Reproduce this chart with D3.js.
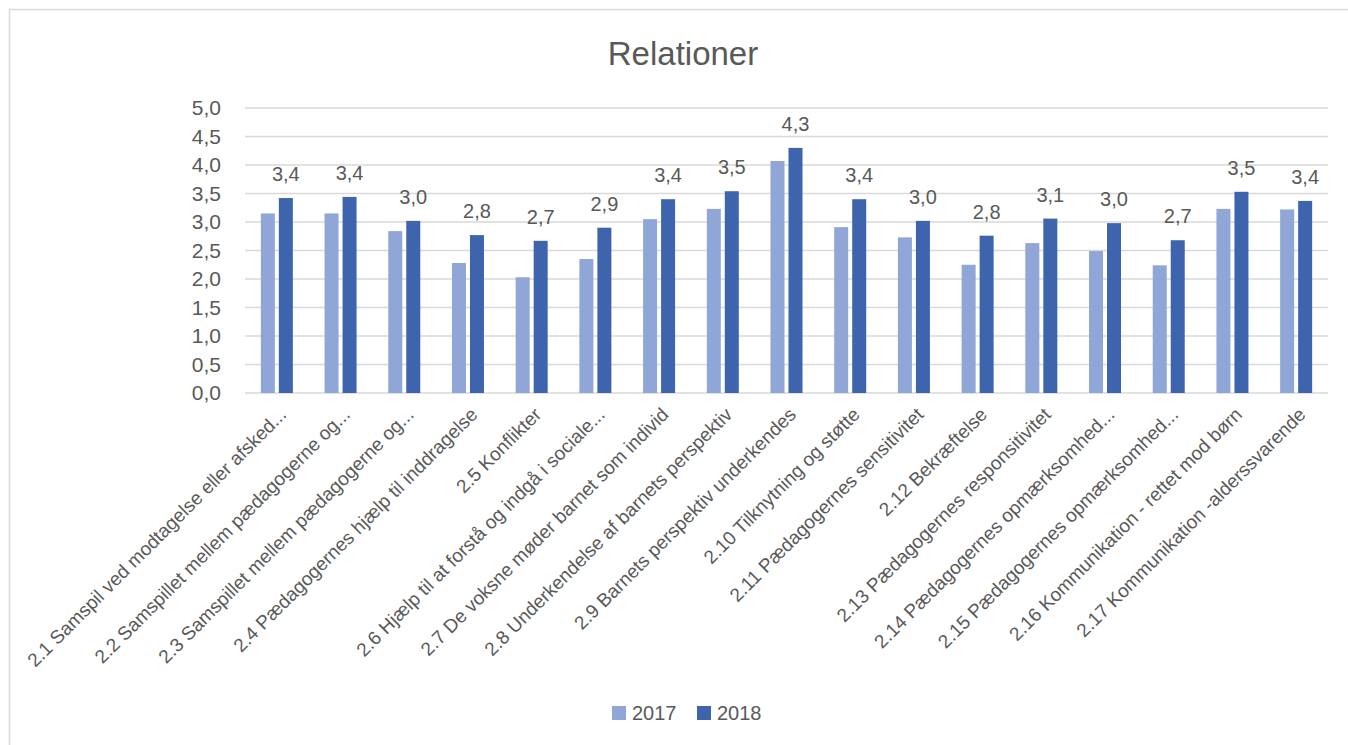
<!DOCTYPE html>
<html>
<head>
<meta charset="utf-8">
<script src="https://cdn.jsdelivr.net/npm/d3@7"></script>
<style>
  body { margin: 0; background: #fff; }
  text { font-family: "Liberation Sans", Arial, sans-serif; fill: #595959; }
</style>
</head>
<body>
<svg width="1348" height="745"></svg>
<script>
// data
var categories = [
  "2.1 Samspil ved modtagelse eller afsked...",
  "2.2 Samspillet mellem pædagogerne og...",
  "2.3 Samspillet mellem pædagogerne og...",
  "2.4 Pædagogernes hjælp til inddragelse",
  "2.5 Konflikter",
  "2.6 Hjælp til at forstå og indgå i sociale...",
  "2.7 De voksne møder barnet som individ",
  "2.8 Underkendelse af barnets perspektiv",
  "2.9 Barnets perspektiv underkendes",
  "2.10 Tilknytning og støtte",
  "2.11 Pædagogernes sensitivitet",
  "2.12 Bekræftelse",
  "2.13 Pædagogernes responsitivitet",
  "2.14 Pædagogernes opmærksomhed...",
  "2.15 Pædagogernes opmærksomhed...",
  "2.16 Kommunikation - rettet mod børn",
  "2.17 Kommunikation -alderssvarende"
];
var values2017 = [3.15, 3.15, 2.84, 2.28, 2.03, 2.35, 3.05, 3.23, 4.07, 2.91, 2.73, 2.25, 2.63, 2.49, 2.24, 3.23, 3.22];
var values2018 = [3.42, 3.44, 3.02, 2.77, 2.67, 2.90, 3.40, 3.54, 4.30, 3.40, 3.02, 2.76, 3.06, 2.98, 2.68, 3.53, 3.37];
var years = ["2017", "2018"];
var colors = ["#8fa6d6", "#3d64ad"];
var yTicks = [0, 0.5, 1, 1.5, 2, 2.5, 3, 3.5, 4, 4.5, 5];

var svg = d3.select("svg"),
    width = +svg.attr("width"),
    height = +svg.attr("height");

var margin = {top: 108, left: 245, right: 20, bottom: 352};
var plotW = 1328 - margin.left,
    plotH = 393 - margin.top;

var fmt = function(v) { return d3.format(".1f")(v).replace(".", ","); };

// chart frame
svg.append("rect")
  .attr("x", 9.5).attr("y", 9.5)
  .attr("width", width + 10).attr("height", height + 10)
  .attr("fill", "#fff")
  .attr("stroke", "#d9d9d9")
  .attr("stroke-width", 1.5);

svg.append("text")
  .attr("x", 683).attr("y", 65)
  .attr("text-anchor", "middle")
  .style("font-size", "33px")
  .text("Relationer");

var g = svg.append("g")
  .attr("transform", "translate(" + margin.left + "," + margin.top + ")");

var x = d3.scaleBand().domain(categories).range([0, plotW]);
var y = d3.scaleLinear().domain([0, 5]).range([plotH, 0]);

// gridlines
g.append("g").selectAll("line").data(yTicks).enter().append("line")
  .attr("x1", 0).attr("x2", plotW)
  .attr("y1", function(d) { return y(d); })
  .attr("y2", function(d) { return y(d); })
  .attr("stroke", "#d9d9d9")
  .attr("stroke-width", 1.5);

// y axis labels
var yAxis = d3.axisLeft(y).tickValues(yTicks).tickFormat(fmt).tickSize(0).tickPadding(24);
var gY = g.append("g").call(yAxis);
gY.select(".domain").remove();
gY.selectAll("text")
  .style("font-size", "21px")
  .style("font-family", "'Liberation Sans', Arial, sans-serif")
  .attr("fill", "#595959");

var barW = 14, gap = 4;
var series = [values2017, values2018];

series.forEach(function(vals, si) {
  g.append("g").selectAll("rect").data(vals).enter().append("rect")
    .attr("x", function(d, i) {
      var c = x(categories[i]) + x.bandwidth() / 2;
      return si === 0 ? c - gap / 2 - barW : c + gap / 2;
    })
    .attr("y", function(d) { return y(d); })
    .attr("width", barW)
    .attr("height", function(d) { return plotH - y(d); })
    .attr("fill", colors[si]);
});

// data labels for 2018
g.append("g").selectAll("text").data(values2018).enter().append("text")
  .attr("x", function(d, i) { return x(categories[i]) + x.bandwidth() / 2 + gap / 2 + barW / 2; })
  .attr("y", function(d) { return y(d) - 17; })
  .attr("text-anchor", "middle")
  .style("font-size", "20px")
  .attr("fill", "#404040")
  .text(fmt);

// x axis
var xAxis = d3.axisBottom(x).tickSize(0).tickPadding(0);
var gX = g.append("g")
  .attr("transform", "translate(0," + plotH + ")")
  .call(xAxis);
gX.select(".domain").remove();
gX.selectAll("text")
  .style("font-size", "19px")
  .style("font-family", "'Liberation Sans', Arial, sans-serif")
  .attr("fill", "#595959")
  .attr("text-anchor", "end")
  .attr("dy", "0.35em")
  .attr("transform", "translate(6,18) rotate(-45)");

// legend
var legend = svg.append("g").attr("transform", "translate(612,706)");
years.forEach(function(yr, i) {
  var lg = legend.append("g").attr("transform", "translate(" + (i * 85) + ",0)");
  lg.append("rect").attr("width", 14).attr("height", 14).attr("fill", colors[i]);
  lg.append("text").attr("x", 20).attr("y", 14).style("font-size", "20px").text(yr);
});
</script>
</body>
</html>
